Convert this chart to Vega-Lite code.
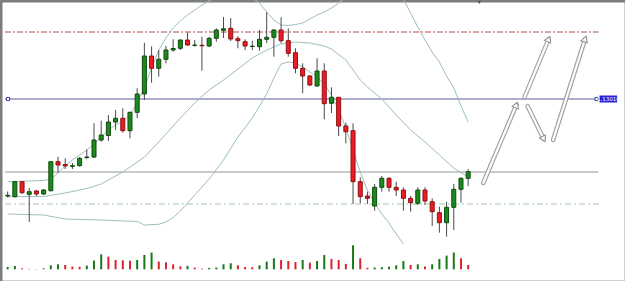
{
  "$schema": "https://vega.github.io/schema/vega-lite/v6.json",
  "width": 625,
  "height": 281,
  "padding": 0,
  "autosize": "none",
  "background": "white",
  "config": {
    "view": {"stroke": "#d0d0d0", "strokeWidth": 2},
    "axis": {"labels": false, "ticks": false, "grid": false, "domain": true, "domainColor": "#7d7d7d", "domainWidth": 4}
  },
  "datasets": {
    "one": [{}],
    "candles": [
      {"i":0,"open":1.12040,"high":1.12085,"low":1.12025,"close":1.12047,"vol":230},
      {"i":1,"open":1.12033,"high":1.12190,"low":1.12025,"close":1.12183,"vol":330},
      {"i":2,"open":1.12183,"high":1.12190,"low":1.12060,"close":1.12073,"vol":100},
      {"i":3,"open":1.12057,"high":1.12120,"low":1.11780,"close":1.12083,"vol":40},
      {"i":4,"open":1.12090,"high":1.12100,"low":1.12040,"close":1.12060,"vol":30},
      {"i":5,"open":1.12060,"high":1.12110,"low":1.12050,"close":1.12100,"vol":100},
      {"i":6,"open":1.12093,"high":1.12390,"low":1.12085,"close":1.12383,"vol":400},
      {"i":7,"open":1.12383,"high":1.12433,"low":1.12273,"close":1.12350,"vol":500},
      {"i":8,"open":1.12355,"high":1.12417,"low":1.12310,"close":1.12340,"vol":430},
      {"i":9,"open":1.12337,"high":1.12370,"low":1.12310,"close":1.12343,"vol":270},
      {"i":10,"open":1.12343,"high":1.12430,"low":1.12335,"close":1.12417,"vol":250},
      {"i":11,"open":1.12425,"high":1.12505,"low":1.12410,"close":1.12430,"vol":370},
      {"i":12,"open":1.12430,"high":1.12767,"low":1.12420,"close":1.12600,"vol":870},
      {"i":13,"open":1.12600,"high":1.12793,"low":1.12583,"close":1.12650,"vol":1500},
      {"i":14,"open":1.12645,"high":1.12850,"low":1.12590,"close":1.12780,"vol":1270},
      {"i":15,"open":1.12780,"high":1.12900,"low":1.12700,"close":1.12817,"vol":930},
      {"i":16,"open":1.12817,"high":1.12917,"low":1.12673,"close":1.12693,"vol":900},
      {"i":17,"open":1.12693,"high":1.12883,"low":1.12617,"close":1.12877,"vol":850},
      {"i":18,"open":1.12877,"high":1.13117,"low":1.12817,"close":1.13060,"vol":930},
      {"i":19,"open":1.13060,"high":1.13573,"low":1.13000,"close":1.13440,"vol":1430},
      {"i":20,"open":1.13440,"high":1.13535,"low":1.13173,"close":1.13317,"vol":1670},
      {"i":21,"open":1.13317,"high":1.13500,"low":1.13233,"close":1.13407,"vol":770},
      {"i":22,"open":1.13407,"high":1.13540,"low":1.13367,"close":1.13500,"vol":700},
      {"i":23,"open":1.13500,"high":1.13607,"low":1.13483,"close":1.13515,"vol":500},
      {"i":24,"open":1.13517,"high":1.13607,"low":1.13500,"close":1.13600,"vol":300},
      {"i":25,"open":1.13600,"high":1.13673,"low":1.13540,"close":1.13550,"vol":340},
      {"i":26,"open":1.13547,"high":1.13600,"low":1.13533,"close":1.13550,"vol":170},
      {"i":27,"open":1.13547,"high":1.13633,"low":1.13293,"close":1.13542,"vol":70},
      {"i":28,"open":1.13540,"high":1.13630,"low":1.13530,"close":1.13617,"vol":140},
      {"i":29,"open":1.13617,"high":1.13717,"low":1.13583,"close":1.13700,"vol":180},
      {"i":30,"open":1.13697,"high":1.13830,"low":1.13620,"close":1.13712,"vol":500},
      {"i":31,"open":1.13717,"high":1.13820,"low":1.13590,"close":1.13610,"vol":600},
      {"i":32,"open":1.13613,"high":1.13640,"low":1.13517,"close":1.13593,"vol":400},
      {"i":33,"open":1.13583,"high":1.13607,"low":1.13500,"close":1.13540,"vol":230},
      {"i":34,"open":1.13535,"high":1.13593,"low":1.13500,"close":1.13538,"vol":210},
      {"i":35,"open":1.13533,"high":1.13700,"low":1.13493,"close":1.13607,"vol":400},
      {"i":36,"open":1.13607,"high":1.13880,"low":1.13570,"close":1.13627,"vol":770},
      {"i":37,"open":1.13627,"high":1.13710,"low":1.13433,"close":1.13700,"vol":1100},
      {"i":38,"open":1.13700,"high":1.13827,"low":1.13567,"close":1.13593,"vol":930},
      {"i":39,"open":1.13593,"high":1.13717,"low":1.13433,"close":1.13467,"vol":830},
      {"i":40,"open":1.13473,"high":1.13517,"low":1.13267,"close":1.13317,"vol":730},
      {"i":41,"open":1.13317,"high":1.13367,"low":1.13067,"close":1.13240,"vol":930},
      {"i":42,"open":1.13240,"high":1.13250,"low":1.13140,"close":1.13150,"vol":670},
      {"i":43,"open":1.13140,"high":1.13417,"low":1.13133,"close":1.13290,"vol":830},
      {"i":44,"open":1.13290,"high":1.13367,"low":1.12807,"close":1.12963,"vol":1430},
      {"i":45,"open":1.12967,"high":1.13127,"low":1.12870,"close":1.13027,"vol":1030},
      {"i":46,"open":1.13027,"high":1.13030,"low":1.12640,"close":1.12740,"vol":930},
      {"i":47,"open":1.12740,"high":1.12773,"low":1.12567,"close":1.12683,"vol":530},
      {"i":48,"open":1.12693,"high":1.12767,"low":1.11960,"close":1.12183,"vol":2400},
      {"i":49,"open":1.12183,"high":1.12227,"low":1.11967,"close":1.12033,"vol":1100},
      {"i":50,"open":1.12040,"high":1.12083,"low":1.11960,"close":1.12017,"vol":150},
      {"i":51,"open":1.11940,"high":1.12160,"low":1.11893,"close":1.12127,"vol":180},
      {"i":52,"open":1.12127,"high":1.12240,"low":1.12083,"close":1.12217,"vol":210},
      {"i":53,"open":1.12217,"high":1.12227,"low":1.12083,"close":1.12127,"vol":260},
      {"i":54,"open":1.12127,"high":1.12183,"low":1.12040,"close":1.12100,"vol":400},
      {"i":55,"open":1.12100,"high":1.12127,"low":1.11893,"close":1.12017,"vol":830},
      {"i":56,"open":1.12017,"high":1.12040,"low":1.11883,"close":1.11973,"vol":430},
      {"i":57,"open":1.11967,"high":1.12127,"low":1.11950,"close":1.12100,"vol":500},
      {"i":58,"open":1.12100,"high":1.12127,"low":1.11950,"close":1.11990,"vol":270},
      {"i":59,"open":1.11983,"high":1.12017,"low":1.11740,"close":1.11883,"vol":500},
      {"i":60,"open":1.11873,"high":1.11933,"low":1.11673,"close":1.11773,"vol":1030},
      {"i":61,"open":1.11773,"high":1.11983,"low":1.11633,"close":1.11927,"vol":1370},
      {"i":62,"open":1.11927,"high":1.12160,"low":1.11700,"close":1.12107,"vol":1670},
      {"i":63,"open":1.12107,"high":1.12227,"low":1.11973,"close":1.12217,"vol":1100},
      {"i":64,"open":1.12217,"high":1.12307,"low":1.12140,"close":1.12283,"vol":430}
    ],
    "bands": [
      {"band":"upper","i":0,"p":1.12183},{"band":"upper","i":5,"p":1.12195},{"band":"upper","i":6,"p":1.12210},{"band":"upper","i":7,"p":1.12270},
      {"band":"upper","i":8,"p":1.12340},{"band":"upper","i":9,"p":1.12400},{"band":"upper","i":10,"p":1.12450},{"band":"upper","i":11,"p":1.12500},
      {"band":"upper","i":12,"p":1.12560},{"band":"upper","i":13,"p":1.12630},{"band":"upper","i":14,"p":1.12700},{"band":"upper","i":15,"p":1.12750},
      {"band":"upper","i":16,"p":1.12790},{"band":"upper","i":17,"p":1.12850},{"band":"upper","i":18,"p":1.12970},{"band":"upper","i":19,"p":1.13120},
      {"band":"upper","i":20,"p":1.13320},{"band":"upper","i":21,"p":1.13500},{"band":"upper","i":22,"p":1.13620},{"band":"upper","i":23,"p":1.13720},
      {"band":"upper","i":24,"p":1.13790},{"band":"upper","i":25,"p":1.13850},{"band":"upper","i":26,"p":1.13900},{"band":"upper","i":27,"p":1.13950},
      {"band":"upper","i":28,"p":1.13990},{"band":"upper","i":29,"p":1.14030},{"band":"upper","i":30,"p":1.14070},{"band":"upper","i":31,"p":1.14090},
      {"band":"upper","i":32,"p":1.14090},{"band":"upper","i":33,"p":1.14060},{"band":"upper","i":34,"p":1.14020},{"band":"upper","i":35,"p":1.13970},
      {"band":"upper","i":36,"p":1.13880},{"band":"upper","i":37,"p":1.13800},{"band":"upper","i":38,"p":1.13750},{"band":"upper","i":39,"p":1.13745},
      {"band":"upper","i":40,"p":1.13755},{"band":"upper","i":41,"p":1.13770},{"band":"upper","i":42,"p":1.13810},{"band":"upper","i":43,"p":1.13850},
      {"band":"upper","i":44,"p":1.13880},{"band":"upper","i":45,"p":1.13920},{"band":"upper","i":46,"p":1.13970},{"band":"upper","i":47,"p":1.14030},
      {"band":"upper","i":48,"p":1.14150},{"band":"upper","i":50,"p":1.14300},{"band":"upper","i":52,"p":1.14280},{"band":"upper","i":54,"p":1.14100},
      {"band":"upper","i":55,"p":1.14010},{"band":"upper","i":56,"p":1.13870},{"band":"upper","i":57,"p":1.13730},{"band":"upper","i":58,"p":1.13600},
      {"band":"upper","i":59,"p":1.13480},{"band":"upper","i":60,"p":1.13380},{"band":"upper","i":61,"p":1.13240},{"band":"upper","i":62,"p":1.13120},
      {"band":"upper","i":63,"p":1.12940},{"band":"upper","i":64,"p":1.12780},
      {"band":"middle","i":0,"p":1.12033},{"band":"middle","i":5,"p":1.12035},{"band":"middle","i":8,"p":1.12070},{"band":"middle","i":11,"p":1.12115},
      {"band":"middle","i":13,"p":1.12160},{"band":"middle","i":16,"p":1.12280},{"band":"middle","i":19,"p":1.12430},{"band":"middle","i":21,"p":1.12580},
      {"band":"middle","i":24,"p":1.12820},{"band":"middle","i":26,"p":1.12970},{"band":"middle","i":28,"p":1.13100},{"band":"middle","i":30,"p":1.13200},
      {"band":"middle","i":32,"p":1.13310},{"band":"middle","i":34,"p":1.13420},{"band":"middle","i":36,"p":1.13500},{"band":"middle","i":38,"p":1.13560},
      {"band":"middle","i":40,"p":1.13580},{"band":"middle","i":42,"p":1.13570},{"band":"middle","i":44,"p":1.13540},{"band":"middle","i":45,"p":1.13510},
      {"band":"middle","i":47,"p":1.13400},{"band":"middle","i":49,"p":1.13200},{"band":"middle","i":50,"p":1.13130},{"band":"middle","i":52,"p":1.13010},
      {"band":"middle","i":54,"p":1.12850},{"band":"middle","i":56,"p":1.12700},{"band":"middle","i":58,"p":1.12580},{"band":"middle","i":60,"p":1.12450},
      {"band":"middle","i":62,"p":1.12320},{"band":"middle","i":64,"p":1.12230},
      {"band":"lower","i":0,"p":1.11860},{"band":"lower","i":5,"p":1.11850},{"band":"lower","i":8,"p":1.11810},{"band":"lower","i":13,"p":1.11800},
      {"band":"lower","i":18,"p":1.11785},{"band":"lower","i":19,"p":1.11750},{"band":"lower","i":21,"p":1.11757},{"band":"lower","i":22,"p":1.11780},
      {"band":"lower","i":23,"p":1.11825},{"band":"lower","i":24,"p":1.11890},{"band":"lower","i":26,"p":1.12050},{"band":"lower","i":27,"p":1.12130},
      {"band":"lower","i":28,"p":1.12210},{"band":"lower","i":30,"p":1.12400},{"band":"lower","i":32,"p":1.12630},{"band":"lower","i":34,"p":1.12820},
      {"band":"lower","i":36,"p":1.13060},{"band":"lower","i":37,"p":1.13220},{"band":"lower","i":38,"p":1.13360},{"band":"lower","i":39,"p":1.13380},
      {"band":"lower","i":40,"p":1.13370},{"band":"lower","i":41,"p":1.13330},{"band":"lower","i":42,"p":1.13280},{"band":"lower","i":43,"p":1.13230},
      {"band":"lower","i":44,"p":1.13160},{"band":"lower","i":45,"p":1.13050},{"band":"lower","i":46,"p":1.12900},{"band":"lower","i":47,"p":1.12720},
      {"band":"lower","i":48,"p":1.12500},{"band":"lower","i":49,"p":1.12280},{"band":"lower","i":50,"p":1.12100},{"band":"lower","i":51,"p":1.11970},
      {"band":"lower","i":52,"p":1.11860},{"band":"lower","i":53,"p":1.11770},{"band":"lower","i":54,"p":1.11660},{"band":"lower","i":55,"p":1.11560}
    ],
    "arrows": [
      {"id":1,"tx":66.09,"ty":1.12170,"hx":70.70,"hy":1.12950},
      {"id":2,"tx":71.84,"ty":1.13030,"hx":75.20,"hy":1.13610},
      {"id":3,"tx":72.25,"ty":1.12940,"hx":74.50,"hy":1.12610},
      {"id":4,"tx":75.80,"ty":1.12600,"hx":80.25,"hy":1.13610}
    ]
  },
  "layer": [
    {
      "layer": [
        {
          "data": {"name": "one"},
          "mark": {"type": "rule", "color": "#b24a4a", "strokeWidth": 1, "strokeDash": [6, 2, 2, 2]},
          "encoding": {
            "x": {"datum": -0.37, "type": "quantitative", "scale": {"domain": [-0.3692, 85.101], "nice": false, "zero": false}, "axis": {"orient": "top"}, "title": null},
            "x2": {"datum": 82.1},
            "y": {"datum": 1.1368, "type": "quantitative", "scale": {"domain": [1.1119, 1.14], "nice": false, "zero": false}, "title": null}
          }
        },
        {
          "data": {"name": "one"},
          "mark": {"type": "rule", "color": "#5a5a9e", "strokeWidth": 1},
          "encoding": {
            "x": {"datum": -0.37, "type": "quantitative"},
            "x2": {"datum": 81.8},
            "y": {"datum": 1.1301, "type": "quantitative"}
          }
        },
        {
          "data": {"name": "one"},
          "mark": {"type": "rule", "color": "#cacaca", "strokeWidth": 2},
          "encoding": {
            "x": {"datum": -0.37, "type": "quantitative"},
            "x2": {"datum": 82.1},
            "y": {"datum": 1.1228, "type": "quantitative"}
          }
        },
        {
          "data": {"name": "one"},
          "mark": {"type": "rule", "color": "#a9c9a9", "strokeWidth": 1, "strokeDash": [6, 3, 2, 3]},
          "encoding": {
            "x": {"datum": -0.37, "type": "quantitative"},
            "x2": {"datum": 82.5},
            "y": {"datum": 1.1196, "type": "quantitative"}
          }
        },
        {
          "data": {"name": "bands"},
          "mark": {"type": "line", "color": "#9dbfba", "strokeWidth": 1, "clip": true},
          "encoding": {
            "x": {"field": "i", "type": "quantitative", "title": null},
            "y": {"field": "p", "type": "quantitative", "title": null},
            "detail": {"field": "band"}
          }
        },
        {
          "data": {"name": "candles"},
          "mark": {"type": "rule", "color": "#4a4a4a", "strokeWidth": 1},
          "encoding": {
            "x": {"field": "i", "type": "quantitative", "title": null},
            "y": {"field": "low", "type": "quantitative", "title": null},
            "y2": {"field": "high"}
          }
        },
        {
          "data": {"name": "candles"},
          "mark": {"type": "bar", "size": 4, "strokeWidth": 1},
          "encoding": {
            "x": {"field": "i", "type": "quantitative", "title": null},
            "y": {"field": "open", "type": "quantitative", "title": null},
            "y2": {"field": "close"},
            "fill": {"condition": {"test": "datum.close >= datum.open", "value": "#1d8a1d"}, "value": "#ec1c24"},
            "stroke": {"condition": {"test": "datum.close >= datum.open", "value": "#0d4a0d"}, "value": "#8c1010"}
          }
        },
        {
          "data": {"name": "arrows"},
          "mark": {"type": "rule", "color": "#a0a0a0", "strokeWidth": 4.5, "strokeCap": "round"},
          "encoding": {
            "x": {"field": "tx", "type": "quantitative"},
            "y": {"field": "ty", "type": "quantitative"},
            "x2": {"field": "hx"},
            "y2": {"field": "hy"}
          }
        },
        {
          "data": {"name": "arrows"},
          "mark": {"type": "rule", "color": "#ffffff", "strokeWidth": 2.2, "strokeCap": "round"},
          "encoding": {
            "x": {"field": "tx", "type": "quantitative"},
            "y": {"field": "ty", "type": "quantitative"},
            "x2": {"field": "hx"},
            "y2": {"field": "hy"}
          }
        },
        {
          "data": {"name": "arrows"},
          "transform": [{"filter": "datum.id == 1 || datum.id == 2"}],
          "mark": {"type": "point", "shape": "triangle-up", "angle": 23, "size": 45, "filled": true, "fill": "#ffffff", "stroke": "#8c8c8c", "strokeWidth": 1, "opacity": 1},
          "encoding": {
            "x": {"field": "hx", "type": "quantitative"},
            "y": {"field": "hy", "type": "quantitative"}
          }
        },
        {
          "data": {"name": "arrows"},
          "transform": [{"filter": "datum.id == 4"}],
          "mark": {"type": "point", "shape": "triangle-up", "angle": 18, "size": 45, "filled": true, "fill": "#ffffff", "stroke": "#8c8c8c", "strokeWidth": 1, "opacity": 1},
          "encoding": {
            "x": {"field": "hx", "type": "quantitative"},
            "y": {"field": "hy", "type": "quantitative"}
          }
        },
        {
          "data": {"name": "arrows"},
          "transform": [{"filter": "datum.id == 3"}],
          "mark": {"type": "point", "shape": "triangle-up", "angle": 153, "size": 45, "filled": true, "fill": "#ffffff", "stroke": "#8c8c8c", "strokeWidth": 1, "opacity": 1},
          "encoding": {
            "x": {"field": "hx", "type": "quantitative"},
            "y": {"field": "hy", "type": "quantitative"}
          }
        },
        {
          "data": {"name": "one"},
          "mark": {"type": "point", "shape": "square", "size": 10, "filled": true, "fill": "#ffffff", "stroke": "#3a3a9a", "strokeWidth": 1, "opacity": 1},
          "encoding": {
            "x": {"datum": 0.05, "type": "quantitative"},
            "y": {"datum": 1.1301, "type": "quantitative"}
          }
        },
        {
          "data": {"name": "one"},
          "mark": {"type": "point", "shape": "square", "size": 10, "filled": true, "fill": "#ffffff", "stroke": "#3a3a9a", "strokeWidth": 1, "opacity": 1},
          "encoding": {
            "x": {"datum": 81.85, "type": "quantitative"},
            "y": {"datum": 1.1301, "type": "quantitative"}
          }
        },
        {
          "data": {"name": "one"},
          "mark": {"type": "rect", "color": "#2424d8"},
          "encoding": {
            "x": {"datum": 82.25, "type": "quantitative"},
            "x2": {"datum": 84.7},
            "y": {"datum": 1.13045, "type": "quantitative"},
            "y2": {"datum": 1.12975}
          }
        },
        {
          "data": {"name": "one"},
          "mark": {"type": "text", "text": "1.13010", "color": "#ffffff", "fontSize": 5.5, "font": "DejaVu Sans", "align": "center", "baseline": "middle"},
          "encoding": {
            "x": {"datum": 83.47, "type": "quantitative"},
            "y": {"datum": 1.1301, "type": "quantitative"}
          }
        },
        {
          "data": {"name": "one"},
          "mark": {"type": "point", "shape": "triangle-down", "size": 14, "filled": true, "color": "#555555", "opacity": 1},
          "encoding": {
            "x": {"datum": 65.55, "type": "quantitative"},
            "y": {"datum": 1.13975, "type": "quantitative"}
          }
        }
      ]
    },
    {
      "data": {"name": "candles"},
      "transform": [{"window": [{"op": "lag", "field": "vol", "as": "prev"}], "sort": [{"field": "i"}]}],
      "mark": {"type": "bar", "size": 2},
      "encoding": {
        "x": {"field": "i", "type": "quantitative", "title": null},
        "y": {"field": "vol", "type": "quantitative", "scale": {"domain": [0, 26930], "range": [269.3, 0], "nice": false}, "axis": null},
        "color": {"condition": {"test": "datum.prev == null || datum.vol >= datum.prev", "value": "#167816"}, "value": "#e0202c"}
      }
    }
  ],
  "resolve": {"scale": {"y": "independent"}}
}
